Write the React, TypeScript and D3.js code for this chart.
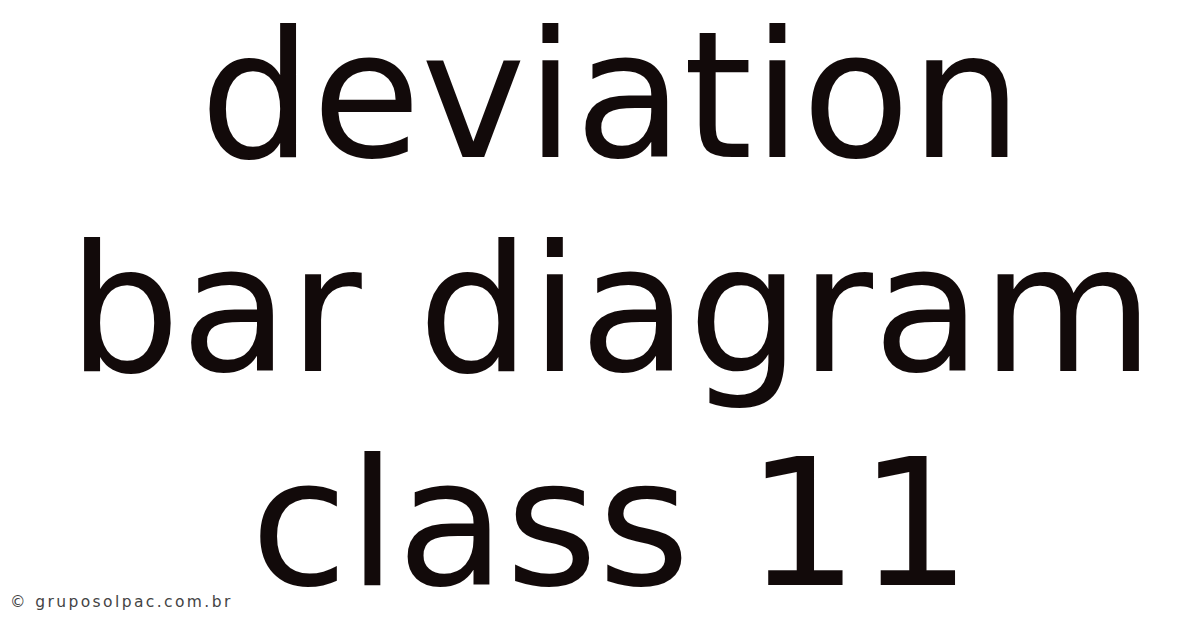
import React, { useEffect, useRef } from 'react';
import * as d3 from 'd3';

const titleLines: string[] = ['deviation', 'bar diagram', 'class 11'];
const watermark = '© gruposolpac.com.br';

const App: React.FC = () => {
    const svgRef = useRef<SVGSVGElement>(null);
    const width = 1200;
    const height = 628;

    useEffect(() => {
        const svg = d3.select(svgRef.current);
        svg.selectAll('*').remove();

        svg.append('rect')
            .attr('width', width)
            .attr('height', height)
            .attr('fill', '#ffffff');

        // baseline of each line
        const y = d3.scaleLinear()
            .domain([0, titleLines.length - 1])
            .range([157, 585]);

        svg.append('g')
            .selectAll('text')
            .data(titleLines)
            .enter()
            .append('text')
            .attr('x', 611)
            .attr('y', (_, i) => y(i))
            .attr('text-anchor', 'middle')
            .style('font-family', '"DejaVu Sans", sans-serif')
            .style('font-size', '177px')
            .style('fill', '#120a0a')
            .text(d => d);

        svg.append('text')
            .attr('x', 10)
            .attr('y', 607)
            .style('font-family', '"DejaVu Sans", sans-serif')
            .style('font-size', '15.5px')
            .style('letter-spacing', '2.4px')
            .style('fill', '#444')
            .text(watermark);
    }, []);

    return (
        <svg ref={svgRef} width={width} height={height}
            style={{ position: 'absolute', left: 0, top: 0, display: 'block' }}></svg>
    );
};

export default App;
